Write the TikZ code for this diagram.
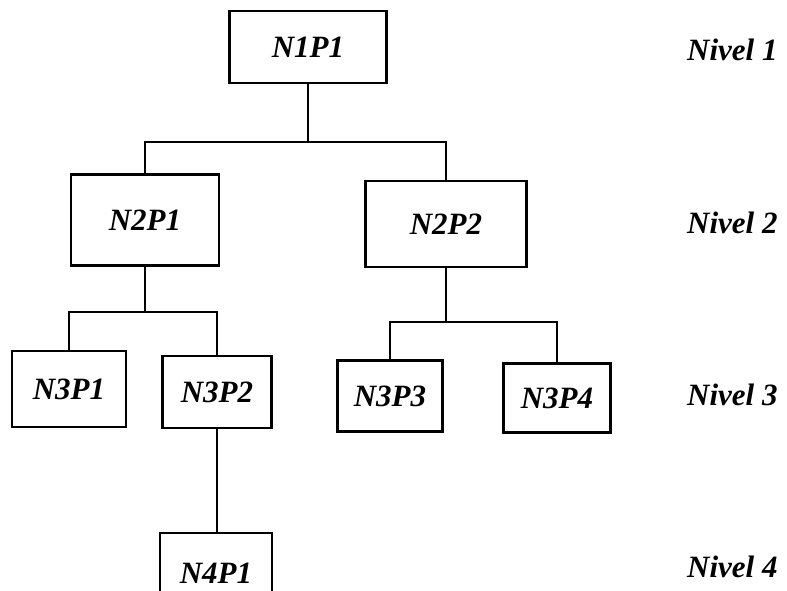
\documentclass[tikz,border=0pt]{standalone}
\usepackage{fontspec}
\setmainfont{Liberation Serif}
\usetikzlibrary {positioning}

\begin{document}
\begin{tikzpicture}[x=1pt,y=-1pt,
caja/.style={draw,line width=2.2pt,inner sep=0pt,font=\fontsize{31}{36}\selectfont\bfseries\itshape},
nivel/.style={anchor=west,inner sep=0pt,font=\fontsize{31}{36}\selectfont\bfseries\itshape},
rama/.style={line width=2.2pt}]

\useasboundingbox (0,0) rectangle (787,591);

\clip (0,0) rectangle (787,591);

\node[caja,minimum width=157pt,minimum height=72pt] (N1P1) at (308,47) {N1P1};

\node[caja,minimum width=148pt,minimum height=91pt] (N2P1) at (145,220) {N2P1};

\node[caja,minimum width=161pt,minimum height=86pt] (N2P2) at (446,224) {N2P2};

\node[caja,minimum width=114pt,minimum height=76pt] (N3P1) at (69,389) {N3P1};

\node[caja,minimum width=109pt,minimum height=72pt] (N3P2) at (217,392) {N3P2};

\node[caja,minimum width=105pt,minimum height=71pt] (N3P3) at (390,396) {N3P3};

\node[caja,minimum width=107pt,minimum height=69pt] (N3P4) at (557,398) {N3P4};

\node[caja,minimum width=112pt,minimum height=80pt] (N4P1) at (216,573) {N4P1};

\node[nivel] (nivel1) at (687,50) {Nivel 1};

\node[nivel] (nivel2) at (687,223) {Nivel 2};

\node[nivel] (nivel3) at (687,395) {Nivel 3};

\node[nivel] (nivel4) at (687,567) {Nivel 4};

\draw[rama] (N1P1.south) -- ++(0,58) -| (N2P1.north);

\draw[rama] (N1P1.south) -- ++(0,58) -| (N2P2.north);

\draw[rama] (N2P1.south) -- ++(0,45) -| (N3P1.north);

\draw[rama] (N2P1.south) -- ++(0,45) -| (N3P2.north);

\draw[rama] (N2P2.south) -- ++(0,54) -| (N3P3.north);

\draw[rama] (N2P2.south) -- ++(0,54) -| (N3P4.north);

\draw[rama] (N3P2.south) -- (N3P2.south |- N4P1.north);

\end{tikzpicture}
\end{document}
